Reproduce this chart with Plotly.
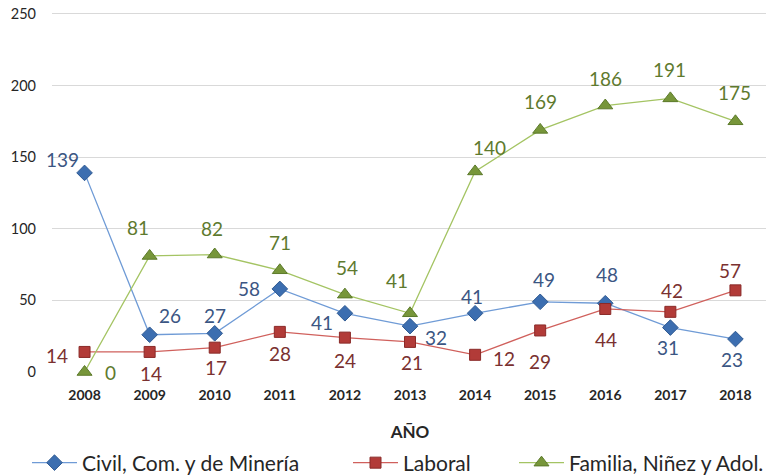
import plotly.graph_objects as go

years = ["2008", "2009", "2010", "2011", "2012", "2013", "2014", "2015", "2016", "2017", "2018"]
civil = [139, 26, 27, 58, 41, 32, 41, 49, 48, 31, 23]
laboral = [14, 14, 17, 28, 24, 21, 12, 29, 44, 42, 57]
familia = [0, 81, 82, 71, 54, 41, 140, 169, 186, 191, 175]
y_ticks = [0, 50, 100, 150, 200, 250]

# label offsets (px) relative to each point, styling only
civil_off = [(-22, 13), (20, 19), (0, 18), (-31, 0), (-23, -9), (26, -11),
             (-3, 17), (4, 22), (2, 29), (-2, -20), (-3, -20)]
laboral_off = [(-28, -4), (1, -22), (1, -20), (0, -22), (0, -23), (2, -21),
               (29, -4), (0, -31), (1, -31), (2, 21), (-5, 20)]
familia_off = [(26, 0), (-12, 28), (-3, 26), (0, 28), (2, 27), (-13, 33),
               (14, 24), (0, 28), (0, 27), (-1, 29), (-1, 29)]

FONT = "Lato"
series = [
    ("Civil, Com. y de Minería", civil, civil_off, "#6F9BD6", "diamond", 12, "#3C6EB0", "#2F5A92", "#3B5683", "legend"),
    ("Laboral", laboral, laboral_off, "#D0605C", "square", 11, "#B23B38", "#8A2A28", "#7A3130", "legend2"),
    ("Familia, Niñez y Adol.", familia, familia_off, "#A4C463", "triangle-up", 13, "#77963A", "#5C7A2A", "#5E7A2E", "legend3"),
]

fig = go.Figure()
annotations = []
for name, vals, offs, lc, sym, ms, mc, mlc, tc, lg in series:
    fig.add_trace(go.Scatter(
        x=years, y=vals, name=name, mode="lines+markers", legend=lg,
        line=dict(color=lc, width=1.3),
        marker=dict(symbol=sym, size=ms, color=mc, line=dict(color=mlc, width=1)),
        cliponaxis=False))
    for i, (v, (dx, dy)) in enumerate(zip(vals, offs)):
        annotations.append(dict(x=i, y=v, xref="x", yref="y", text=str(v), showarrow=False,
                                xshift=dx, yshift=dy, xanchor="center", yanchor="middle",
                                font=dict(family=FONT, size=19, color=tc)))

legend_font = dict(family=FONT, size=21, color="#262626")
def leg(x):
    return dict(orientation="h", xref="container", yref="container", x=x, xanchor="left",
                y=20 / 475, yanchor="middle", font=legend_font, bgcolor="rgba(0,0,0,0)",
                itemwidth=45)

fig.update_layout(
    width=774, height=475,
    margin=dict(l=44, r=14, t=3, b=111),
    paper_bgcolor="white", plot_bgcolor="white",
    font=dict(family=FONT, color="#262626"),
    showlegend=True,
    legend=leg(19 / 774), legend2=leg(340 / 774), legend3=leg(506 / 774),
    annotations=annotations,
    xaxis=dict(type="category", range=[-0.5, 10.5], showgrid=False, zeroline=False, showline=False,
               automargin=False,
               tickfont=dict(family=FONT, size=14, color="#262626", weight="bold"),
               ticklabelstandoff=13,
               title=dict(text="<b>AÑO</b>", font=dict(family=FONT, size=17, color="#262626"), standoff=26)),
    yaxis=dict(range=[0, 252], tickvals=y_ticks, showgrid=True, gridcolor="#D9D9D9", gridwidth=1,
               zeroline=False, showline=False, automargin=False, ticklabeloverflow="allow",
               tickfont=dict(family=FONT, size=14.5, color="#262626"), ticklabelstandoff=15),
)
fig.write_html("out.html")
